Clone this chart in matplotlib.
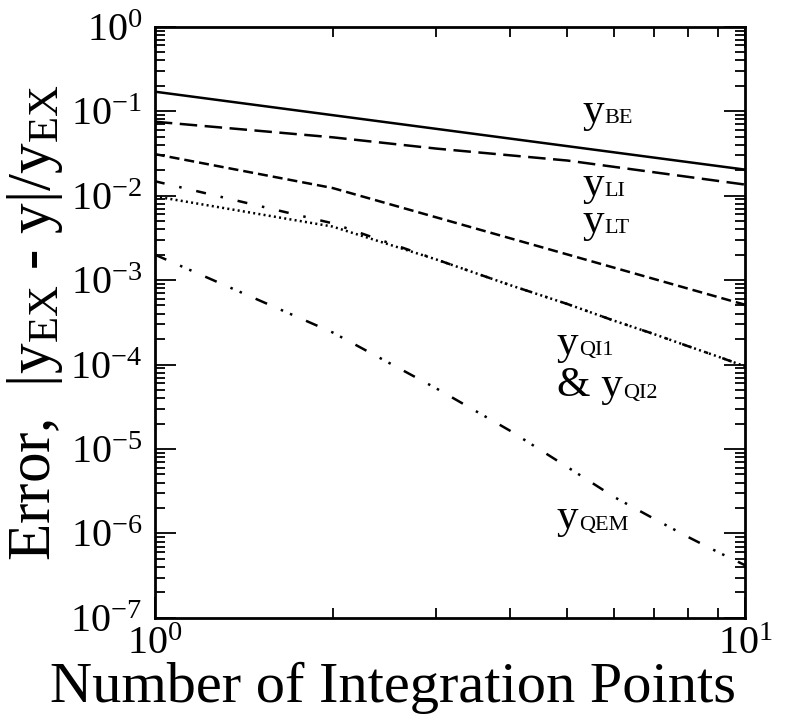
"""Error vs number of integration points (log-log)."""

import matplotlib

matplotlib.use("Agg")
import matplotlib.pyplot as plt  # noqa: E402
from matplotlib.ticker import LogLocator, NullFormatter  # noqa: E402

plt.rcParams["font.family"] = ["Liberation Serif", "DejaVu Serif"]
plt.rcParams["mathtext.fontset"] = "custom"
plt.rcParams["mathtext.rm"] = "Liberation Serif"
plt.rcParams["mathtext.it"] = "Liberation Serif:italic"

# values
n_be = [1, 10]
err_be = [0.17, 0.0203]

n_li = [1, 2, 3, 5, 10]
err_li = [0.075, 0.049, 0.036, 0.026, 0.0135]

n_lt = [1, 2, 10]
err_lt = [0.031, 0.0123, 0.00051]

n_qi = [1, 2, 3, 4, 5, 6, 7, 8, 9, 10]
err_qi1 = [0.0148, 0.0047, 0.00175, 8.7e-4, 5.2e-4, 3.3e-4, 2.3e-4, 1.65e-4, 1.24e-4, 9.5e-5]
err_qi2 = [0.0098, 0.0043, 0.00175, 8.7e-4, 5.2e-4, 3.3e-4, 2.3e-4, 1.65e-4, 1.24e-4, 9.5e-5]

n_qem = [1, 2, 3, 4, 5, 6, 7, 8, 9, 10]
err_qem = [2.0e-3, 2.4e-4, 5.2e-5, 1.64e-5, 6.1e-6, 2.7e-6, 1.5e-6, 9.1e-7, 6.0e-7, 4.2e-7]

# (main text, subscript, x, y)
curve_labels = [
    ("y", "BE", 5.3, 0.075),
    ("y", "LI", 5.3, 0.0103),
    ("y", "LT", 5.3, 0.0037),
    ("y", "QI1", 4.8, 1.35e-4),
    ("& y", "QI2", 4.8, 4.2e-5),
    ("y", "QEM", 4.8, 1.15e-6),
]

fig = plt.figure(figsize=(7.86, 7.21), dpi=100)
ax = fig.add_axes([0.197, 0.143, 0.751, 0.820])

lw = 1.8
ax.plot(n_be, err_be, color="black", linewidth=lw, linestyle="-")
ax.plot(n_li, err_li, color="black", linewidth=lw, linestyle=(0, (7, 3)))
ax.plot(n_lt, err_lt, color="black", linewidth=lw, linestyle=(0, (4, 2)))
ax.plot(n_qi, err_qi1, color="black", linewidth=lw, linestyle=(0, (4, 6, 1, 6)))
ax.plot(n_qi, err_qi2, color="black", linewidth=lw, linestyle=(0, (0.8, 1.3)))
ax.plot(n_qem, err_qem, color="black", linewidth=lw, linestyle=(0, (5, 6, 1, 3, 1, 6)))

ax.set_xscale("log")
ax.set_yscale("log")
ax.set_xlim(1, 10)
ax.set_ylim(1e-7, 1)

ax.xaxis.set_major_locator(LogLocator(base=10, numticks=5))
ax.xaxis.set_minor_locator(LogLocator(base=10, subs=range(2, 10), numticks=12))
ax.yaxis.set_major_locator(LogLocator(base=10, numticks=10))
ax.yaxis.set_minor_locator(LogLocator(base=10, subs=range(2, 10), numticks=12))
ax.xaxis.set_minor_formatter(NullFormatter())
ax.yaxis.set_minor_formatter(NullFormatter())

ax.tick_params(which="both", direction="in", top=True, right=True, width=1.3)
ax.tick_params(which="major", length=15, labelsize=29)
ax.tick_params(axis="y", which="major", pad=9)
ax.tick_params(axis="x", which="major", pad=6)
ax.tick_params(which="minor", length=7)
for side in ax.spines.values():
    side.set_linewidth(2)

fig.text(0.5, 0.027, "Number of Integration Points", fontsize=42,
         ha="center", va="baseline")
ax.set_ylabel(r"Error,  $|\mathrm{y}_{\mathrm{EX}}$ - y$|/\mathrm{y}_{\mathrm{EX}}$",
              fontsize=44, labelpad=4)

renderer = fig.canvas.get_renderer()
for main, sub, xpos, ypos in curve_labels:
    t = ax.text(xpos, ypos, main, fontsize=31, color="black")
    width_pt = t.get_window_extent(renderer).width * 72 / fig.dpi
    ax.annotate(sub, xy=(xpos, ypos), xytext=(width_pt + 0.5, -1),
                textcoords="offset points", fontsize=16, color="black")

fig.savefig("out.png", dpi=100)
